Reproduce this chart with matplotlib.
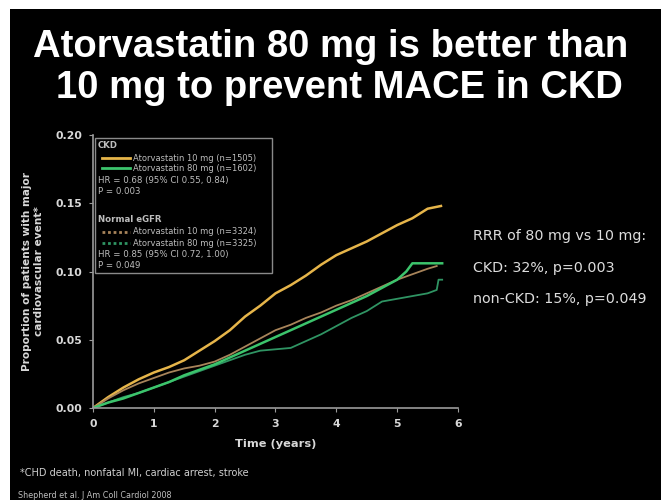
import matplotlib
matplotlib.use('Agg')
import matplotlib.pyplot as plt
from matplotlib.lines import Line2D
from matplotlib.patches import Rectangle

W, H = 661, 500

# follow-up time (years) and cumulative event proportion
t_ckd10 = [0, 0.25, 0.5, 0.75, 1.0, 1.25, 1.5, 1.75, 2.0, 2.25, 2.5, 2.75, 3.0, 3.25,
           3.5, 3.75, 4.0, 4.25, 4.5, 4.75, 5.0, 5.25, 5.5, 5.72]
y_ckd10 = [0, 0.008, 0.015, 0.021, 0.026, 0.030, 0.035, 0.042, 0.049, 0.057, 0.067, 0.075,
           0.084, 0.090, 0.097, 0.105, 0.112, 0.117, 0.122, 0.128, 0.134, 0.139, 0.146, 0.148]

t_ckd80 = [0, 0.25, 0.5, 0.75, 1.0, 1.25, 1.5, 1.75, 2.0, 2.25, 2.5, 2.75, 3.0, 3.25,
           3.5, 3.75, 4.0, 4.25, 4.5, 4.75, 5.0, 5.15, 5.25, 5.5, 5.74]
y_ckd80 = [0, 0.004, 0.007, 0.011, 0.015, 0.019, 0.024, 0.028, 0.032, 0.037, 0.042, 0.047,
           0.052, 0.057, 0.062, 0.067, 0.072, 0.077, 0.082, 0.088, 0.094, 0.100, 0.106, 0.106,
           0.106]

t_nor10 = [0, 0.25, 0.5, 0.75, 1.0, 1.25, 1.5, 1.75, 2.0, 2.25, 2.5, 2.75, 3.0, 3.25,
           3.5, 3.75, 4.0, 4.25, 4.5, 4.75, 5.0, 5.25, 5.5, 5.65]
y_nor10 = [0, 0.007, 0.013, 0.018, 0.022, 0.026, 0.029, 0.031, 0.034, 0.039, 0.045, 0.051,
           0.057, 0.061, 0.066, 0.070, 0.075, 0.079, 0.084, 0.089, 0.094, 0.098, 0.102, 0.104]

t_nor80 = [0, 0.25, 0.5, 0.75, 1.0, 1.25, 1.5, 1.75, 2.0, 2.25, 2.5, 2.75, 3.0, 3.25,
           3.5, 3.75, 4.0, 4.25, 4.5, 4.75, 5.0, 5.25, 5.5, 5.65, 5.68, 5.74]
y_nor80 = [0, 0.004, 0.008, 0.011, 0.015, 0.019, 0.023, 0.027, 0.031, 0.035, 0.039, 0.042,
           0.043, 0.044, 0.049, 0.054, 0.060, 0.066, 0.071, 0.078, 0.080, 0.082, 0.084,
           0.0865, 0.094, 0.094]

x_ticks = [0, 1, 2, 3, 4, 5, 6]
y_ticks = [0.00, 0.05, 0.10, 0.15, 0.20]

yellow = '#e6b54a'
green = '#3cc46c'
tan = '#a8845a'
dkgreen = '#2f9463'
grey = '#bdbdbd'


def px(x, y):
    return x / W, 1 - y / H


fig = plt.figure(figsize=(W / 100, H / 100), dpi=100, facecolor='white')
# black slide area (thin white strip on top and left in the reference)
fig.add_artist(Rectangle((10 / W, 0), 1, 1 - 9 / H, transform=fig.transFigure,
                         facecolor='black', edgecolor='none', zorder=0))

fig.text(*px(331, 47), 'Atorvastatin 80 mg is better than', ha='center', va='center',
         color='white', fontsize=27.5, fontweight='bold', family='Liberation Sans')
fig.text(*px(339, 88), '10 mg to prevent MACE in CKD', ha='center', va='center',
         color='white', fontsize=27.5, fontweight='bold', family='Liberation Sans')

ax = fig.add_axes([93 / W, 1 - 408 / H, 365 / W, 273 / H])
ax.set_facecolor('black')
ax.plot(t_ckd10, y_ckd10, color=yellow, lw=1.8)
ax.plot(t_nor10, y_nor10, color=tan, lw=1.3)
ax.plot(t_nor80, y_nor80, color=dkgreen, lw=1.3)
ax.plot(t_ckd80, y_ckd80, color=green, lw=1.8)

ax.set_xlim(0, 6)
ax.set_ylim(0, 0.20)
ax.set_xticks(x_ticks)
ax.set_yticks(y_ticks)
ax.set_yticklabels([f'{v:.2f}' for v in y_ticks])
for s in ['top', 'right']:
    ax.spines[s].set_visible(False)
for s in ['left', 'bottom']:
    ax.spines[s].set_color('#9a9a9a')
    ax.spines[s].set_linewidth(1.2)
ax.tick_params(colors='#9a9a9a', length=3, labelsize=7.8, pad=5)
for lab in ax.get_xticklabels() + ax.get_yticklabels():
    lab.set_color('#d8d8d8')
    lab.set_fontweight('bold')
ax.set_xlabel('Time (years)', color='#d8d8d8', fontsize=8.2, fontweight='bold', labelpad=7)
ax.set_ylabel('Proportion of patients with major\ncardiovascular event*', color='#d8d8d8',
              fontsize=7.6, fontweight='bold', labelpad=8, linespacing=1.3)

# legend box drawn by hand (headings + stats lines)
fig.add_artist(Rectangle(px(95, 273), 177 / W, 135 / H, transform=fig.transFigure,
                         facecolor='black', edgecolor='#8a8a8a', lw=1.0, zorder=5))
leg_rows = [
    (145, None, 'CKD', True),
    (158, (yellow, '-'), 'Atorvastatin 10 mg (n=1505)', False),
    (168, (green, '-'), 'Atorvastatin 80 mg (n=1602)', False),
    (181, None, 'HR = 0.68 (95% CI 0.55, 0.84)', False),
    (192, None, 'P = 0.003', False),
    (219, None, 'Normal eGFR', True),
    (232, (tan, (0, (1, 1))), 'Atorvastatin 10 mg (n=3324)', False),
    (243, (dkgreen, (0, (1, 1))), 'Atorvastatin 80 mg (n=3325)', False),
    (255, None, 'HR = 0.85 (95% CI 0.72, 1.00)', False),
    (266, None, 'P = 0.049', False),
]
for y, line, txt, bold in leg_rows:
    if line is None:
        fig.text(*px(98, y), txt, color=grey, fontsize=6.2, va='center',
                 fontweight='bold' if bold else 'normal', zorder=6)
    else:
        fig.add_artist(Line2D([102 / W, 130 / W], [1 - y / H, 1 - y / H], color=line[0],
                              ls=line[1], lw=2, transform=fig.transFigure, zorder=6))
        fig.text(*px(133, y), txt, color=grey, fontsize=6.0, va='center', zorder=6)

fig.text(*px(473, 236), 'RRR of 80 mg vs 10 mg:', color='#dddddd', fontsize=10.3, va='center')
fig.text(*px(473, 268), 'CKD: 32%, p=0.003', color='#dddddd', fontsize=10.3, va='center')
fig.text(*px(473, 299), 'non-CKD: 15%, p=0.049', color='#dddddd', fontsize=10.3, va='center')

fig.text(*px(20, 473), '*CHD death, nonfatal MI, cardiac arrest, stroke', color='#cfcfcf',
         fontsize=7, va='center')
fig.text(*px(18, 496), 'Shepherd et al. J Am Coll Cardiol 2008', color='#bfbfbf',
         fontsize=5.8, va='center')

fig.savefig('out.png', dpi=100, facecolor=fig.get_facecolor())
